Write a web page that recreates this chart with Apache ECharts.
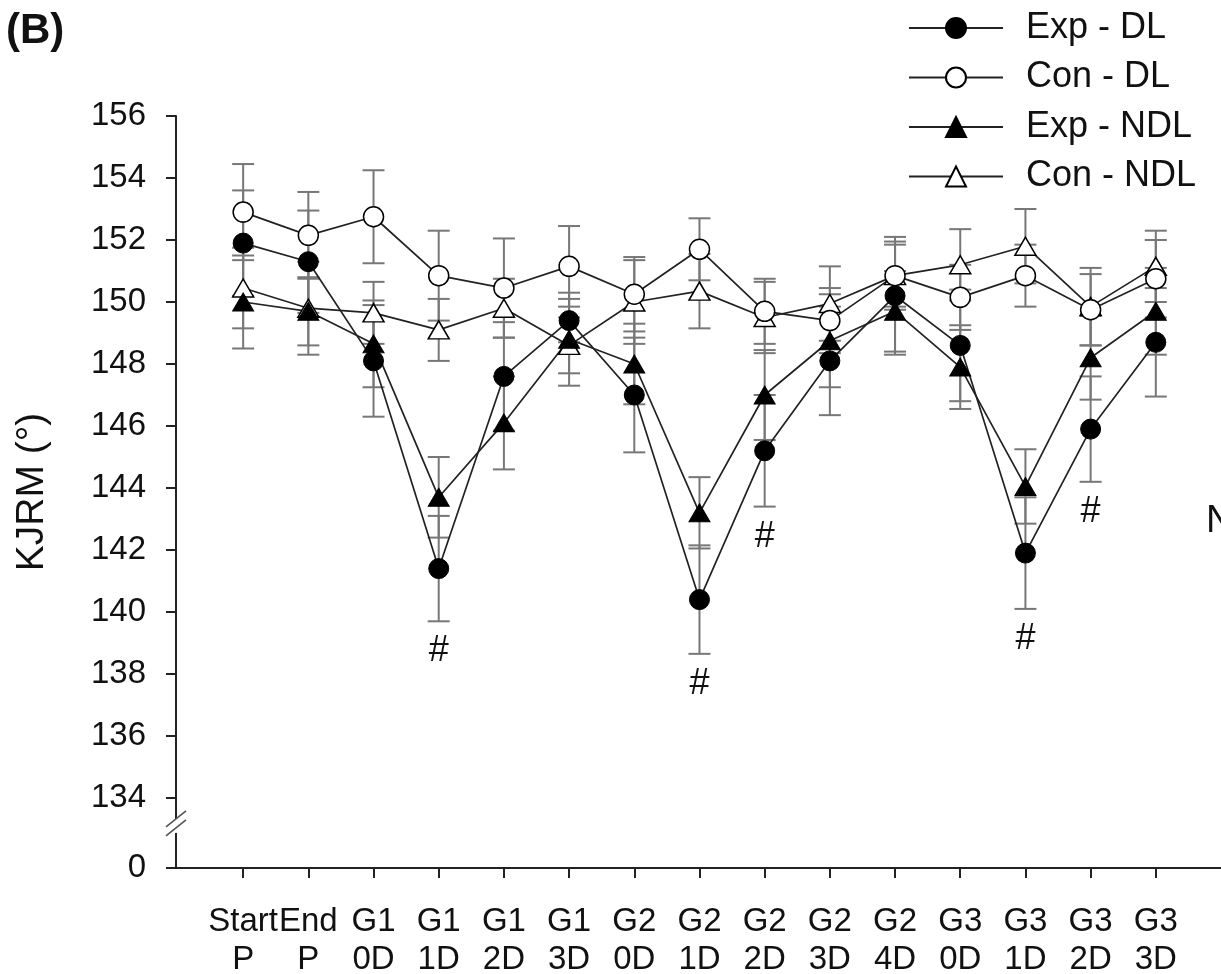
<!DOCTYPE html>
<html>
<head>
<meta charset="utf-8">
<title>KJRM</title>
<script src="https://cdn.jsdelivr.net/npm/echarts@6/dist/echarts.min.js"></script>
<style>
  html, body { margin: 0; padding: 0; background: #fff; }
  #chart { width: 1221px; height: 974px; }
</style>
</head>
<body>
<div id="chart"></div>
<script>
// Session labels along the x axis
const X_LABELS = ['Start\nP', 'End\nP', 'G1\n0D', 'G1\n1D', 'G1\n2D', 'G1\n3D',
  'G2\n0D', 'G2\n1D', 'G2\n2D', 'G2\n3D', 'G2\n4D', 'G3\n0D', 'G3\n1D', 'G3\n2D', 'G3\n3D'];

// Group means (degrees) and standard errors
const EXP_DL    = [151.9, 151.3, 148.1, 141.4, 147.6, 149.4, 147.0, 140.4, 145.2, 148.1, 150.2, 148.6, 141.9, 145.9, 148.7];
const EXP_DL_SE = [1.7, 1.65, 1.8, 1.7, 1.75, 0.7, 1.85, 1.75, 1.8, 1.75, 1.9, 1.8, 1.8, 1.7, 1.75];

const CON_DL    = [152.9, 152.15, 152.75, 150.85, 150.45, 151.15, 150.25, 151.7, 149.7, 149.4, 150.85, 150.15, 150.85, 149.75, 150.75];
const CON_DL_SE = [1.55, 1.4, 1.5, 1.45, 1.6, 1.3, 1.2, 1.0, 1.05, 1.05, 1.1, 1.05, 1.0, 1.15, 1.25];

const EXP_NDL    = [150.0, 149.7, 148.65, 143.7, 146.1, 148.8, 148.0, 143.2, 147.0, 148.75, 149.7, 147.9, 144.05, 148.2, 149.7];
const EXP_NDL_SE = [1.5, 1.1, 1.4, 1.3, 1.5, 1.5, 1.3, 1.15, 1.45, 1.5, 1.3, 1.35, 1.2, 1.35, 1.4];

const CON_NDL    = [150.45, 149.8, 149.65, 149.1, 149.8, 148.6, 150.0, 150.35, 149.5, 149.95, 150.85, 151.2, 151.8, 149.85, 151.15];
const CON_NDL_SE = [1.3, 1.5, 1.0, 1.0, 0.95, 0.9, 1.35, 1.2, 1.15, 1.2, 1.0, 1.15, 1.2, 1.25, 1.15];

// Sessions where Exp - DL differs significantly (marked with #)
const SIG_INDEX = [3, 7, 8, 12, 13];

// Y axis: 134..156 with a break down to 0
const Y_TICKS = [134, 136, 138, 140, 142, 144, 146, 148, 150, 152, 154, 156];
const Y_FLOOR = 131.742;   // axis position that carries the "0" label below the break
const Y_BREAK_AT = 133.1;  // where the // break marks sit

const FONT = "'Liberation Sans', Arial, Helvetica, sans-serif";
const INK = '#111';
const BAR_COLOR = '#777';

const idx = X_LABELS.map((_, i) => i);
const pts = arr => arr.map((v, i) => [i, v]);
const errPts = (m, s) => m.map((v, i) => [i, v, s[i]]);

function errorBarSeries(name, mean, se) {
  return {
    type: 'custom',
    name: name + ' SE',
    z: 1,
    silent: true,
    data: errPts(mean, se),
    encode: { x: 0, y: 1 },
    renderItem: function (params, api) {
      const x = api.value(0), m = api.value(1), s = api.value(2);
      const top = api.coord([x, m + s]);
      const bot = api.coord([x, m - s]);
      const hw = 11;
      const st = { stroke: BAR_COLOR, lineWidth: 2 };
      return {
        type: 'group',
        children: [
          { type: 'line', shape: { x1: top[0], y1: top[1], x2: bot[0], y2: bot[1] }, style: st },
          { type: 'line', shape: { x1: top[0] - hw, y1: top[1], x2: top[0] + hw, y2: top[1] }, style: st },
          { type: 'line', shape: { x1: bot[0] - hw, y1: bot[1], x2: bot[0] + hw, y2: bot[1] }, style: st }
        ]
      };
    }
  };
}

function lineSeries(name, mean, symbol, filled) {
  return {
    type: 'line',
    name: name,
    z: 3,
    data: pts(mean),
    symbol: symbol,
    symbolSize: symbol === 'triangle' ? [21, 18] : 20,
    showAllSymbol: true,
    lineStyle: { color: '#222', width: 1.7 },
    itemStyle: filled
      ? { color: '#000', borderColor: '#000', borderWidth: 1 }
      : { color: '#fff', borderColor: '#000', borderWidth: 1.5 },
    emphasis: { disabled: true },
    animation: false
  };
}

const chart = echarts.init(document.getElementById('chart'), null, { renderer: 'canvas' });

const option = {
  animation: false,
  backgroundColor: '#fff',
  title: {
    text: '(B)',
    left: 1,
    top: 5,
    textStyle: { fontFamily: FONT, fontSize: 42, fontWeight: 'bold', color: INK, lineHeight: 42 }
  },
  legend: {
    orient: 'vertical',
    left: 908,
    top: 10,
    padding: 0,
    itemWidth: 94,
    itemHeight: 25,
    itemGap: 13.5,
    data: ['Exp - DL', 'Con - DL', 'Exp - NDL', 'Con - NDL'],
    textStyle: { fontFamily: FONT, fontSize: 36, color: INK, lineHeight: 36, padding: [0, 0, 0, 18] },
    selectedMode: false
  },
  grid: { left: 176, right: 0, top: 116, bottom: 106, containLabel: false, outerBoundsMode: 'none' },
  xAxis: {
    type: 'value',
    min: -1.03,
    max: 15,
    splitLine: { show: false },
    axisLine: { show: true, onZero: false, lineStyle: { color: '#222', width: 2 } },
    axisTick: { show: true, length: 10, customValues: idx, lineStyle: { color: '#222', width: 2 } },
    axisLabel: {
      customValues: idx,
      hideOverlap: false,
      showMinLabel: true,
      showMaxLabel: true,
      formatter: v => X_LABELS[Math.round(v)] || '',
      fontFamily: FONT, fontSize: 33, lineHeight: 38, color: INK, margin: 35
    }
  },
  yAxis: {
    type: 'value',
    min: Y_FLOOR,
    max: 156,
    name: 'KJRM (°)',
    nameLocation: 'middle',
    nameRotate: 90,
    nameGap: 124,
    nameTextStyle: { fontFamily: FONT, fontSize: 39, color: INK },
    splitLine: { show: false },
    axisLine: { show: true, onZero: false, lineStyle: { color: '#222', width: 2 } },
    axisTick: { show: true, length: 10, customValues: [Y_FLOOR].concat(Y_TICKS), lineStyle: { color: '#222', width: 2 } },
    axisLabel: {
      customValues: [Y_FLOOR].concat(Y_TICKS),
      formatter: v => (v < Y_TICKS[0] - 0.5 ? '0' : String(Math.round(v))),
      fontFamily: FONT, fontSize: 33, color: INK, margin: 30
    }
  },
  series: [
    errorBarSeries('Exp - DL', EXP_DL, EXP_DL_SE),
    errorBarSeries('Con - DL', CON_DL, CON_DL_SE),
    errorBarSeries('Exp - NDL', EXP_NDL, EXP_NDL_SE),
    errorBarSeries('Con - NDL', CON_NDL, CON_NDL_SE),
    lineSeries('Con - NDL', CON_NDL, 'triangle', false),
    lineSeries('Exp - NDL', EXP_NDL, 'triangle', true),
    lineSeries('Con - DL', CON_DL, 'circle', false),
    lineSeries('Exp - DL', EXP_DL, 'circle', true),
    {
      type: 'custom',
      name: 'significance',
      z: 4,
      silent: true,
      data: SIG_INDEX.map(i => [i, EXP_DL[i] - EXP_DL_SE[i]]),
      encode: { x: 0, y: 1 },
      renderItem: function (params, api) {
        const p = api.coord([api.value(0), api.value(1)]);
        return {
          type: 'text',
          x: p[0],
          y: p[1] + 30,
          style: { text: '#', fontFamily: FONT, fontSize: 36, fill: INK, align: 'center', verticalAlign: 'middle' }
        };
      }
    }
  ]
};

chart.setOption(option);

// Axis break marks (//) on the y axis, plus the partly visible side label
const axisX = chart.convertToPixel({ xAxisIndex: 0 }, -1.03);
const breakY = chart.convertToPixel({ yAxisIndex: 0 }, Y_BREAK_AT);
chart.setOption({
  graphic: [
    { type: 'rect', shape: { x: axisX - 4, y: breakY - 7, width: 8, height: 14 }, style: { fill: '#fff' }, z: 10 },
    { type: 'line', shape: { x1: axisX - 10, y1: breakY + 1, x2: axisX + 10, y2: breakY - 15 }, style: { stroke: '#555', lineWidth: 1.6 }, z: 11 },
    { type: 'line', shape: { x1: axisX - 10, y1: breakY + 10, x2: axisX + 10, y2: breakY - 6 }, style: { stroke: '#555', lineWidth: 1.6 }, z: 11 },
    { type: 'text', left: 1206, top: 503, style: { text: 'N', fontFamily: FONT, fontSize: 38, fill: INK }, z: 11 }
  ]
});
</script>
</body>
</html>
